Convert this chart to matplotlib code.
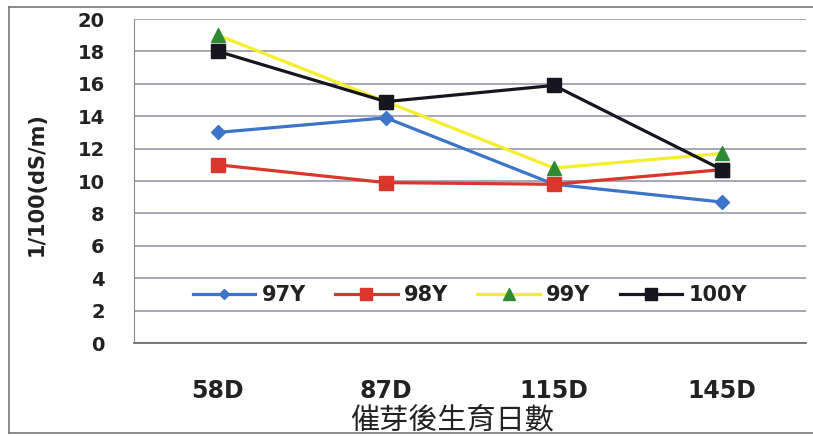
import matplotlib.pyplot as plt
from matplotlib.lines import Line2D

plt.rcParams['font.family'] = ['DejaVu Sans', 'Noto Sans CJK TC']

days = ['58D', '87D', '115D', '145D']
y97 = [13.0, 13.9, 9.8, 8.7]
y98 = [11.0, 9.9, 9.8, 10.7]
y99 = [19.0, 14.9, 10.8, 11.7]
y100 = [18.0, 14.9, 15.9, 10.7]
yticks = [0, 2, 4, 6, 8, 10, 12, 14, 16, 18, 20]

fig = plt.figure(figsize=(8.13, 4.37), dpi=100)
ax = fig.add_axes([0.1648, 0.2151, 0.8266, 0.7414])

x = range(len(days))
ax.plot(x, y97, color='#3b74c8', lw=2.3, marker='D', ms=7, label='97Y')
ax.plot(x, y98, color='#d9362c', lw=2.3, marker='s', ms=10, label='98Y')
ax.plot(x, y99, color='#f4ee2c', lw=2.3, marker='^', ms=10,
        mfc='#2f8a34', mec='#2f8a34', label='99Y')
ax.plot(x, y100, color='#161620', lw=2.3, marker='s', ms=10, label='100Y')

ax.set_xlim(-0.5, 3.5)
ax.set_ylim(0, 20)
ax.set_yticks(yticks)
ax.set_xticks(list(x))
ax.set_xticklabels(days, fontsize=17, fontweight='bold', color='#222222')
ax.set_yticklabels([str(v) for v in yticks], fontsize=14, fontweight='bold',
                   color='#222222')
ax.tick_params(axis='y', length=0, pad=21)
ax.tick_params(axis='x', length=0, pad=26)

ax.grid(axis='y', color='#8e8ea4', lw=1.1)
ax.set_axisbelow(True)
for side in ['top', 'right']:
    ax.spines[side].set_visible(False)
ax.spines['left'].set_color('#888888')
ax.spines['bottom'].set_color('#666666')
ax.spines['bottom'].set_linewidth(1.2)

ax.legend(loc='center', bbox_to_anchor=(0.5, 0.148), ncol=4, frameon=False,
          prop={'size': 15, 'weight': 'bold'}, handlelength=3.0,
          handletextpad=0.3, columnspacing=1.4, labelcolor='#222222',
          markerscale=0.8)

ax.set_ylabel('1/100(dS/m)', fontsize=15, fontweight='bold', color='#222222')
ax.yaxis.set_label_coords(-0.13, 0.49)
fig.text(452 / 813, 1 - 421 / 437, '催芽後生育日數', fontsize=21,
         family=['Noto Sans CJK TC', 'DejaVu Sans'], color='#222222',
         ha='center', va='center')

# outer frame around the chart
frame = dict(color='#777777', lw=1.2, transform=fig.transFigure)
fig.add_artist(Line2D([9 / 813, 1], [1 - 7 / 437, 1 - 7 / 437], **frame))
fig.add_artist(Line2D([9 / 813, 9 / 813], [1 - 7 / 437, 1 - 433 / 437], **frame))
fig.add_artist(Line2D([9 / 813, 1], [1 - 433 / 437, 1 - 433 / 437], **frame))

fig.savefig('out.png', dpi=100)
